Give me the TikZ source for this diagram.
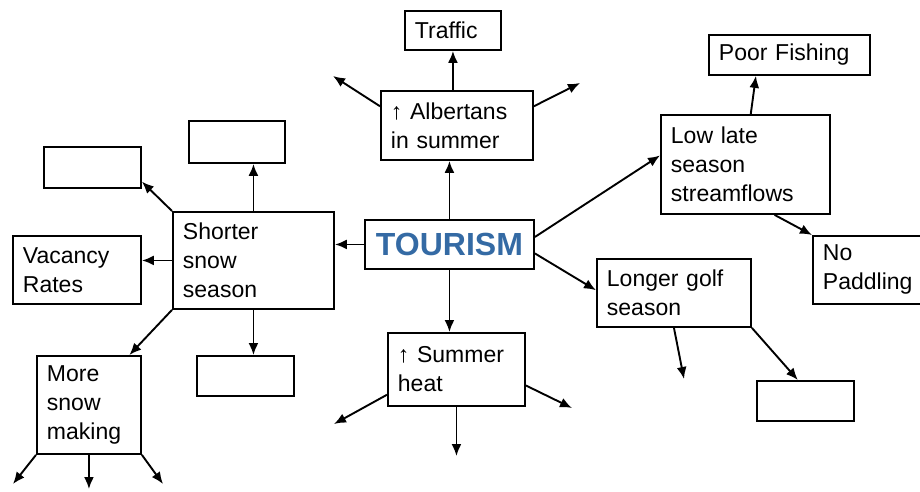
\documentclass[tikz,border=0pt]{standalone}
\usepackage{fontspec}
\setmainfont{Liberation Sans}
\usetikzlibrary{arrows.meta,calc}
\definecolor{tourblue}{RGB}{52,106,164}

\begin{document}
\begin{tikzpicture}[x=0.5pt,y=-0.5pt,>={Latex[length=6pt,width=5pt]},line width=0.95pt,
  box/.style={draw, anchor=north west, align=left, inner xsep=5pt, inner ysep=0pt, font=\fontsize{11.5}{14.5}\selectfont},
  blank/.style={draw, anchor=north west, inner sep=0pt}]

\useasboundingbox (0,0) rectangle (920,492);

% Centre
\node[draw, anchor=north west, minimum width=84.5pt, minimum height=24.5pt, inner sep=0pt, text=tourblue, font=\fontsize{16}{19}\selectfont\bfseries] (tourism) at (364,219) {TOURISM};

% Top branch
\node[box, text width=38pt, minimum height=19.5pt] (traffic) at (404,10) {Traffic};
\node[box, text width=66pt, minimum height=34.5pt] (albertans) at (380,90) {↑ Albertans\\in summer};
\coordinate (albUL) at (333,76);
\coordinate (albUR) at (580,83);

% Bottom branch
\node[box, text width=58.5pt, minimum height=36.5pt] (heat) at (387,332) {↑ Summer\\heat};
\coordinate (heatL) at (334,424);
\coordinate (heatR) at (572,408);
\coordinate (heatD) at (455.5,456);

% Left branch
\node[box, text width=70.5pt, minimum height=48.5pt] (shorter) at (172,211) {Shorter\\snow\\season};
\node[blank, minimum width=48pt, minimum height=21pt] (blankTop) at (188,120) {};
\node[blank, minimum width=48.5pt, minimum height=20.5pt] (blankLeft) at (43,146) {};
\node[box, text width=54pt, minimum height=34pt] (vacancy) at (12,235) {Vacancy\\Rates};
\node[box, text width=42pt, minimum height=49pt] (snowmaking) at (36,355) {More\\snow\\making};
\node[blank, minimum width=48.5pt, minimum height=20pt] (blankBottom) at (196,355) {};
\coordinate (makeL) at (13,484);
\coordinate (makeD) at (88,489);
\coordinate (makeR) at (163,484);

% Right branch
\node[box, text width=74.5pt, minimum height=49.5pt] (streamflow) at (660,114) {Low late\\season\\streamflows};
\node[box, text width=70.5pt, minimum height=20pt] (fishing) at (708,34) {Poor Fishing};
\node[box, text width=45pt, minimum height=34pt] (paddling) at (812,235) {No\\Paddling};
\node[box, text width=67pt, minimum height=34pt] (golf) at (596,258) {Longer golf\\season};
\node[blank, minimum width=48.5pt, minimum height=20pt] (blankGolf) at (756,380) {};
\coordinate (golfD) at (684,379);

% Arrows
\draw[->] (tourism.north) -- (tourism.north |- albertans.south);
\draw[->] (albertans.north -| traffic) -- (traffic.south);
\draw[->] (albertans.166) -- (albUL);
\draw[->] (albertans.14) -- (albUR);

\draw[->] (tourism.south) -- (tourism.south |- heat.north);
\draw[->] (heat.200) -- (heatL);
\draw[->] (heat.-13) -- (heatR);
\draw[->] (heat.south) -- (heat.south |- heatD);

\draw[->] (tourism.west) -- (tourism.west -| shorter.east);
\draw[->] (shorter.north) -- (shorter.north |- blankTop.south);
\draw[->] (shorter.north west) -- (blankLeft.-16);
\draw[->] (shorter.west) -- (shorter.west -| vacancy.east);
\draw[->] (shorter.south west) -- (snowmaking.51);
\draw[->] (shorter.south) -- (shorter.south |- blankBottom.north);
\draw[->] (snowmaking.south west) -- (makeL);
\draw[->] (snowmaking.south) -- (snowmaking.south |- makeD);
\draw[->] (snowmaking.south east) -- (makeR);

\draw[->] (tourism.5) -- (streamflow.174);
\draw[->] (streamflow.84) -- (fishing.-148);
\draw[->] (streamflow.-60) -- (paddling.north west);
\draw[->] (tourism.-6) -- (golf.178);
\draw[->] (golf.south) -- (golfD);
\draw[->] (golf.south east) -- (blankGolf.110);

\end{tikzpicture}
\end{document}
